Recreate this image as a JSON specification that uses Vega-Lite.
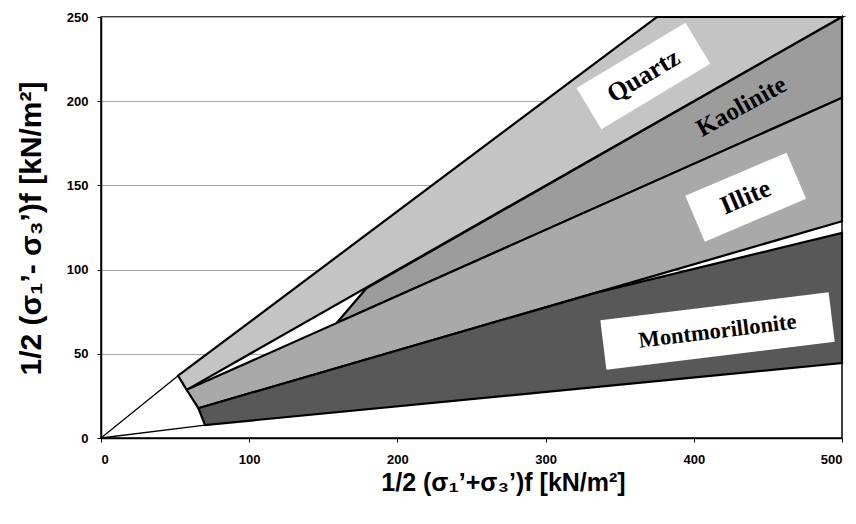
{
  "$schema": "https://vega.github.io/schema/vega-lite/v6.json",
  "width": 741,
  "height": 421,
  "autosize": {"type": "none"},
  "padding": {"left": 101, "top": 17, "right": 14, "bottom": 86},
  "background": "white",
  "config": {
    "view": {"stroke": "black", "strokeWidth": 1.5},
    "axis": {
      "labelFont": "Liberation Sans",
      "labelFontWeight": "bold",
      "labelFontSize": 13,
      "labelColor": "black",
      "titleFont": "Liberation Sans",
      "titleFontWeight": "bold",
      "titleColor": "black",
      "domainColor": "black",
      "domainWidth": 1.5,
      "tickColor": "black",
      "tickSize": 4,
      "gridColor": "#a8a8a8",
      "gridWidth": 1
    }
  },
  "datasets": {
    "poly": [
      {"mineral": "Quartz", "i": 1, "x": 52, "y": 37},
      {"mineral": "Quartz", "i": 2, "x": 375, "y": 250},
      {"mineral": "Quartz", "i": 3, "x": 500, "y": 250},
      {"mineral": "Quartz", "i": 4, "x": 57.8, "y": 28.6},
      {"mineral": "Kaolinite", "i": 1, "x": 159, "y": 68.3},
      {"mineral": "Kaolinite", "i": 2, "x": 179.3, "y": 89.1},
      {"mineral": "Kaolinite", "i": 3, "x": 500, "y": 250},
      {"mineral": "Kaolinite", "i": 4, "x": 500, "y": 202},
      {"mineral": "Illite", "i": 1, "x": 57.8, "y": 28.6},
      {"mineral": "Illite", "i": 2, "x": 500, "y": 202},
      {"mineral": "Illite", "i": 3, "x": 500, "y": 128.7},
      {"mineral": "Illite", "i": 4, "x": 65.7, "y": 17.7},
      {"mineral": "Montmorillonite", "i": 1, "x": 65.7, "y": 17.7},
      {"mineral": "Montmorillonite", "i": 2, "x": 335, "y": 86.5},
      {"mineral": "Montmorillonite", "i": 3, "x": 500, "y": 121.8},
      {"mineral": "Montmorillonite", "i": 4, "x": 500, "y": 44.5},
      {"mineral": "Montmorillonite", "i": 5, "x": 70.2, "y": 7.7}
    ],
    "thin": [
      {"edge": "upper", "i": 1, "x": 0, "y": 0},
      {"edge": "upper", "i": 2, "x": 52, "y": 37},
      {"edge": "lower", "i": 1, "x": 0, "y": 0},
      {"edge": "lower", "i": 2, "x": 70.2, "y": 7.7}
    ],
    "labels": [
      {"label": "Quartz", "x": 366, "y": 215},
      {"label": "Kaolinite", "x": 432, "y": 197},
      {"label": "Illite", "x": 435, "y": 143},
      {"label": "Montmorillonite", "x": 416, "y": 63.5}
    ]
  },
  "encoding": {
    "x": {
      "field": "x", "type": "quantitative",
      "scale": {"domain": [0, 500], "nice": false},
      "axis": {
        "values": [0, 100, 200, 300, 400, 500],
        "grid": false,
        "labelPadding": 11,
        "title": "1/2 (σ₁’+σ₃’)f [kN/m²]",
        "titleFontSize": 25,
        "titleX": 402,
        "titleY": 52,
        "titleBaseline": "alphabetic",
        "titleAlign": "center"
      }
    },
    "y": {
      "field": "y", "type": "quantitative",
      "scale": {"domain": [0, 250], "nice": false},
      "axis": {
        "values": [0, 50, 100, 150, 200, 250],
        "grid": true,
        "labelPadding": 9,
        "title": "1/2 (σ₁’- σ₃’)f [kN/m²]",
        "titleFontSize": 30,
        "titleX": -70,
        "titleY": 211,
        "titleAngle": -90,
        "titleAlign": "center",
        "titleBaseline": "middle"
      }
    }
  },
  "layer": [
    {
      "data": {"name": "thin"},
      "mark": {"type": "line", "color": "black", "strokeWidth": 1.3},
      "encoding": {"detail": {"field": "edge"}, "order": {"field": "i"}}
    },
    {
      "data": {"name": "poly"},
      "transform": [{"filter": "datum.mineral === 'Quartz'"}],
      "mark": {"type": "line", "interpolate": "linear-closed", "fill": "#c4c4c4", "stroke": "black", "strokeWidth": 2.2, "strokeJoin": "miter"},
      "encoding": {"order": {"field": "i"}}
    },
    {
      "data": {"name": "poly"},
      "transform": [{"filter": "datum.mineral === 'Kaolinite'"}],
      "mark": {"type": "line", "interpolate": "linear-closed", "fill": "#9c9c9c", "stroke": "black", "strokeWidth": 2.2, "strokeJoin": "miter"},
      "encoding": {"order": {"field": "i"}}
    },
    {
      "data": {"name": "poly"},
      "transform": [{"filter": "datum.mineral === 'Illite'"}],
      "mark": {"type": "line", "interpolate": "linear-closed", "fill": "#a9a9a9", "stroke": "black", "strokeWidth": 2.2, "strokeJoin": "miter"},
      "encoding": {"order": {"field": "i"}}
    },
    {
      "data": {"name": "poly"},
      "transform": [{"filter": "datum.mineral === 'Montmorillonite'"}],
      "mark": {"type": "line", "interpolate": "linear-closed", "fill": "#585858", "stroke": "black", "strokeWidth": 2.2, "strokeJoin": "miter"},
      "encoding": {"order": {"field": "i"}}
    },
    {
      "data": {"name": "labels"},
      "transform": [{"filter": "datum.label === 'Quartz'"}],
      "mark": {"type": "point", "shape": "M-1,-0.378L1,-0.378L1,0.378L-1,0.378Z", "size": 16129, "angle": -31, "filled": true, "fill": "white", "opacity": 1, "strokeWidth": 0}
    },
    {
      "data": {"name": "labels"},
      "transform": [{"filter": "datum.label === 'Illite'"}],
      "mark": {"type": "point", "shape": "M-1,-0.4545L1,-0.4545L1,0.4545L-1,0.4545Z", "size": 12100, "angle": -23, "filled": true, "fill": "white", "opacity": 1, "strokeWidth": 0}
    },
    {
      "data": {"name": "labels"},
      "transform": [{"filter": "datum.label === 'Montmorillonite'"}],
      "mark": {"type": "point", "shape": "M-1,-0.217L1,-0.217L1,0.217L-1,0.217Z", "size": 52900, "angle": -7, "filled": true, "fill": "white", "opacity": 1, "strokeWidth": 0}
    },
    {
      "data": {"name": "labels"},
      "transform": [{"filter": "datum.label === 'Quartz'"}],
      "mark": {"type": "text", "font": "Liberation Serif", "fontWeight": "bold", "fontSize": 26, "angle": -31, "color": "black"},
      "encoding": {"text": {"field": "label"}}
    },
    {
      "data": {"name": "labels"},
      "transform": [{"filter": "datum.label === 'Kaolinite'"}],
      "mark": {"type": "text", "font": "Liberation Serif", "fontWeight": "bold", "fontSize": 25, "angle": -29, "color": "black"},
      "encoding": {"text": {"field": "label"}}
    },
    {
      "data": {"name": "labels"},
      "transform": [{"filter": "datum.label === 'Illite'"}],
      "mark": {"type": "text", "font": "Liberation Serif", "fontWeight": "bold", "fontSize": 26, "angle": -23, "color": "black"},
      "encoding": {"text": {"field": "label"}}
    },
    {
      "data": {"name": "labels"},
      "transform": [{"filter": "datum.label === 'Montmorillonite'"}],
      "mark": {"type": "text", "font": "Liberation Serif", "fontWeight": "bold", "fontSize": 22.5, "angle": -7, "color": "black"},
      "encoding": {"text": {"field": "label"}}
    }
  ]
}
